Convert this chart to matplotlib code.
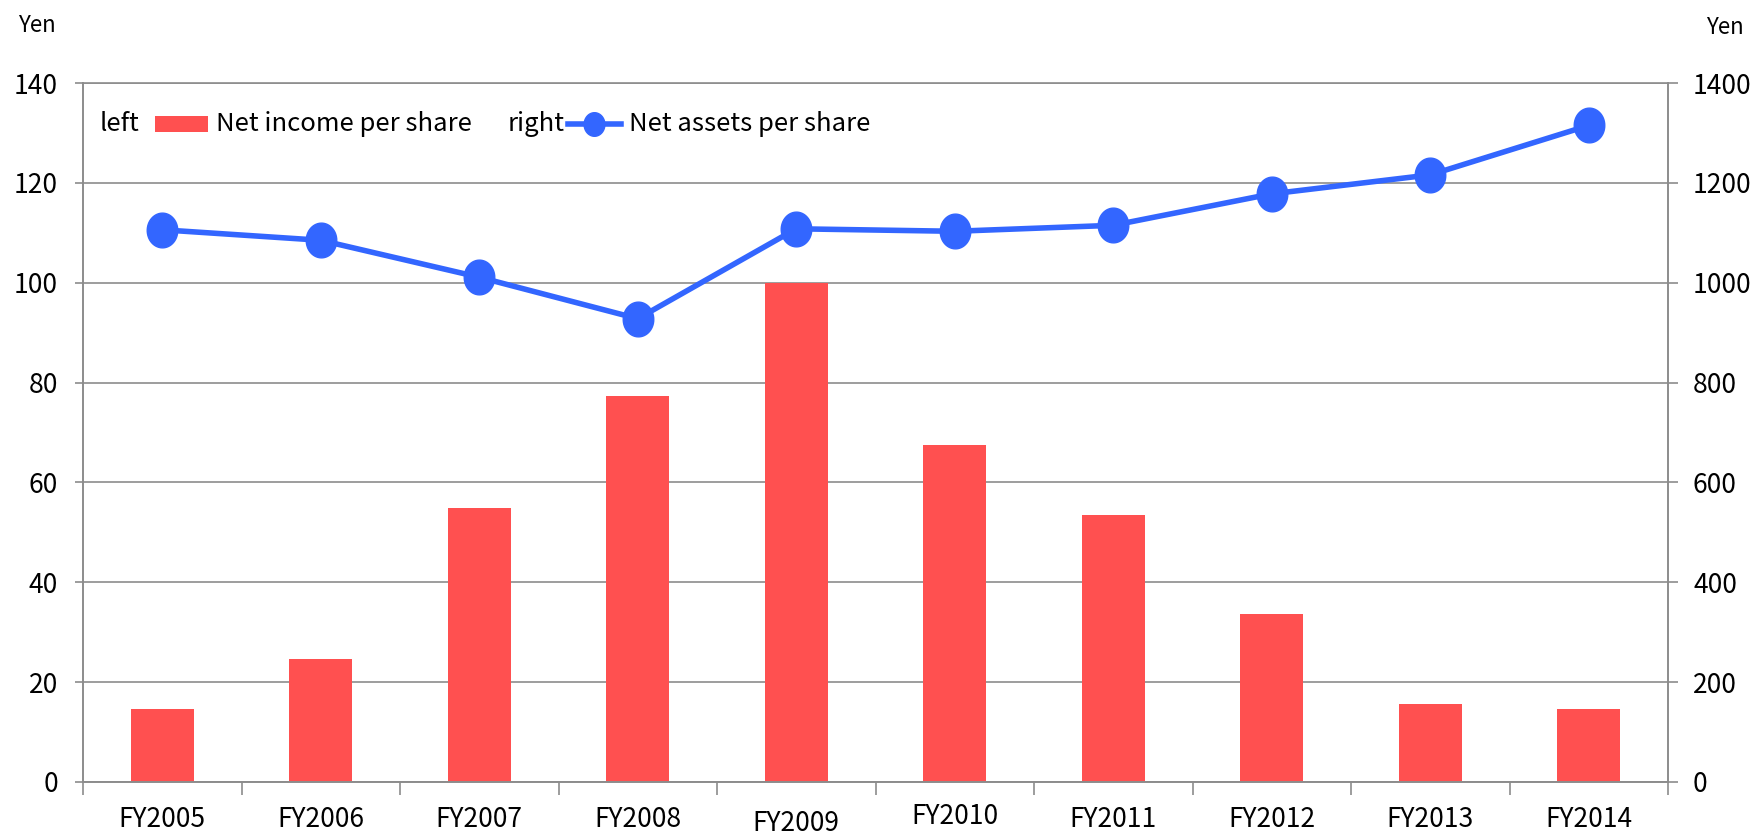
import numpy as np
import matplotlib
matplotlib.use("Agg")
import matplotlib.pyplot as plt
import matplotlib.transforms as mtransforms
from matplotlib.offsetbox import TextArea, DrawingArea, HPacker, AnchoredOffsetbox
from matplotlib.patches import Rectangle
from matplotlib.lines import Line2D

plt.rcParams['font.family'] = ['Noto Sans CJK JP', 'DejaVu Sans']

# data
years = ['FY2005', 'FY2006', 'FY2007', 'FY2008', 'FY2009',
         'FY2010', 'FY2011', 'FY2012', 'FY2013', 'FY2014']
net_income = [14.6, 24.7, 54.8, 77.3, 100.0, 67.4, 53.5, 33.7, 15.7, 14.6]
net_assets = [1106, 1085, 1011, 928, 1108, 1103, 1115, 1178, 1216, 1315]

bar_col = '#FF5050'
line_col = '#3366FF'
grid_col = '#8C8C8C'
fs = 19

fig = plt.figure(figsize=(17.6, 8.36), dpi=100)
ax = fig.add_axes([83/1760, 1 - 782/836, (1668 - 83)/1760, (782 - 83)/836])
ax2 = ax.twinx()

x = np.arange(len(years))
ax.bar(x, net_income, width=0.4, color=bar_col, zorder=2)

# ellipse marker, a bit taller than wide
t = np.linspace(0, 2*np.pi, 60)
ell = list(zip(0.88*np.cos(t), np.sin(t)))
ax2.plot(x, net_assets, color=line_col, lw=4.0, marker=ell, ms=25,
         mec=line_col, mfc=line_col, zorder=3)

ax.set_xlim(-0.5, len(years) - 0.5)
ax.set_ylim(0, 140)
ax2.set_ylim(0, 1400)
ax.set_yticks(np.arange(0, 141, 20))
ax2.set_yticks(np.arange(0, 1401, 200))
ax.yaxis.grid(True, color=grid_col, lw=1.2)
ax.set_axisbelow(True)

ax.set_xticks(x)
ax.set_xticklabels(years, fontsize=fs)
ax.set_xticks(np.arange(-0.5, len(years)), minor=True)
ax.tick_params(axis='x', which='major', length=0, pad=17)
ax.tick_params(axis='x', which='minor', length=9, width=1.2, color=grid_col)
ax.tick_params(axis='y', length=6, width=1.2, color=grid_col, labelsize=fs, pad=12)
ax2.tick_params(axis='y', length=7, width=1.2, color=grid_col, labelsize=fs, pad=11)

# small vertical jitter of some x labels as in the original
shifts = {4: -4, 5: 3}
for i, lab in enumerate(ax.get_xticklabels()):
    if i in shifts:
        off = mtransforms.ScaledTranslation(0, shifts[i]/100, fig.dpi_scale_trans)
        lab.set_transform(lab.get_transform() + off)

for a in (ax, ax2):
    for s in a.spines.values():
        s.set_color(grid_col)
        s.set_linewidth(1.2)
ax2.spines['top'].set_visible(False)

fig.text(37/1760, 1 - 25/836, 'Yen', fontsize=16, ha='center', va='center')
fig.text(1725/1760, 1 - 28/836, 'Yen', fontsize=16, ha='center', va='center')

# legend: left [bar] label   right [line] label
def spacer(w):
    return DrawingArea(w, 1, 0, 0)

px = 72/100
rect_da = DrawingArea(53*px, 16*px, 0, 0)
rect_da.add_artist(Rectangle((0, 0), 53*px, 16*px, fc=bar_col, ec='none'))
line_da = DrawingArea(53*px, 24*px, 0, 0)
line_da.add_artist(Line2D([0, 53*px], [12*px, 12*px], color=line_col, lw=4.0))
line_da.add_artist(Line2D([26*px], [12*px], marker=ell, ms=17, color=line_col))

tp = dict(fontsize=18.5)
items = [TextArea('left', textprops=tp), spacer(15*px), rect_da, spacer(8*px),
         TextArea('Net income per share', textprops=tp), spacer(36*px),
         TextArea('right', textprops=tp), spacer(3*px), line_da, spacer(8*px),
         TextArea('Net assets per share', textprops=tp)]
box = HPacker(children=items, align='center', pad=0, sep=0)
anch = AnchoredOffsetbox(loc='center left', child=box, pad=0, borderpad=0,
                         frameon=False, bbox_to_anchor=(100/1760, 1 - 124/836),
                         bbox_transform=fig.transFigure)
ax2.add_artist(anch)

fig.savefig('out.png', dpi=100)
